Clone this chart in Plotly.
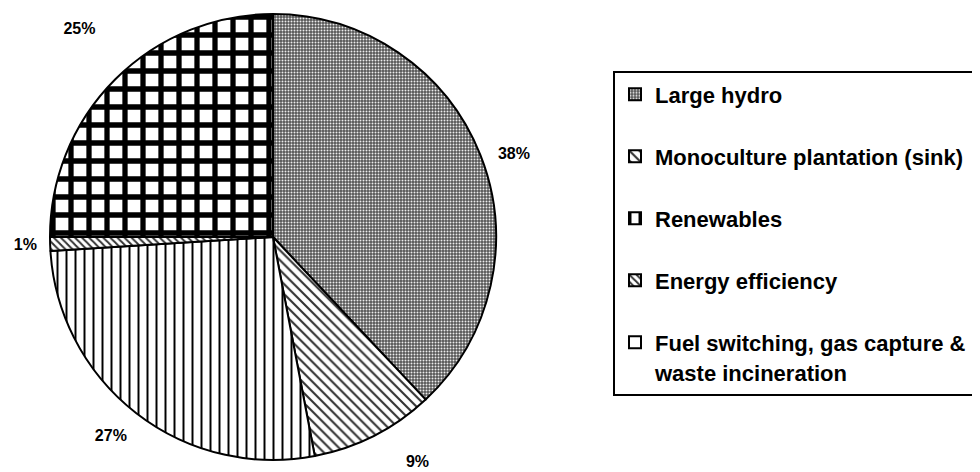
import plotly.graph_objects as go

categories = [
    "Large hydro",
    "Monoculture plantation (sink)",
    "Renewables",
    "Energy efficiency",
    "Fuel switching, gas capture &<br>waste incineration",
]
shares = [38, 9, 27, 1, 25]

# legend labels: single-line entries padded with a blank line for spacing
SPAN = '<span style="font-size:22px">'
legend_labels = []
for c in categories:
    txt = SPAN + c.replace("<br>", "</span><br>" + SPAN) + "</span>"
    if "<br>" not in c:
        txt += "<br>\u00a0"
    legend_labels.append(txt)

# outside percentage labels, padded with blank space to sit further from the pie
NB = "\u00a0"
label_templates = [
    NB * 3 + "%{value}%",
    "\u00a0<br>" + NB * 5 + "%{value}%",
    "\u00a0<br>%{value}%",
    "%{value}%" + NB * 2,
    "%{value}%<br>\u00a0<br>\u00a0<br>\u00a0",
]

patterns = dict(
    shape=[".", "\\", "|", "\\", "+"],
    size=[3, 7, 9, 5, 18],
    solidity=[0.33, 0.3, 0.22, 0.4, 0.5],
    fgcolor=["#ececec", "#333333", "black", "#333333", "black"],
    bgcolor=["#555555", "white", "white", "white", "white"],
)

fig = go.Figure(
    go.Pie(
        labels=legend_labels,
        values=shares,
        sort=False,
        direction="clockwise",
        rotation=0,
        marker=dict(
            colors=["#555555", "white", "white", "white", "white"],
            line=dict(color="black", width=2),
            pattern=patterns,
        ),
        texttemplate=label_templates,
        textposition="outside",
        outsidetextfont=dict(family="Arial, Liberation Sans", size=16, color="black", weight="bold"),
        domain=dict(x=[42 / 980, 488 / 980], y=[20 / 472, 466 / 472]),
        hoverinfo="label+percent",
    )
)

fig.update_layout(
    width=980,
    height=472,
    margin=dict(l=0, r=0, t=0, b=0),
    paper_bgcolor="white",
    plot_bgcolor="white",
    font=dict(family="Arial, Liberation Sans", color="black"),
    showlegend=True,
    legend=dict(
        x=605 / 980,
        y=1 - 63 / 472,
        xanchor="left",
        yanchor="top",
        valign="top",
        bordercolor="black",
        borderwidth=2,
        bgcolor="white",
        font=dict(family="Arial, Liberation Sans", size=22.7, color="black", weight="bold"),
        traceorder="normal",
    ),
)

fig.write_html("out.html")
